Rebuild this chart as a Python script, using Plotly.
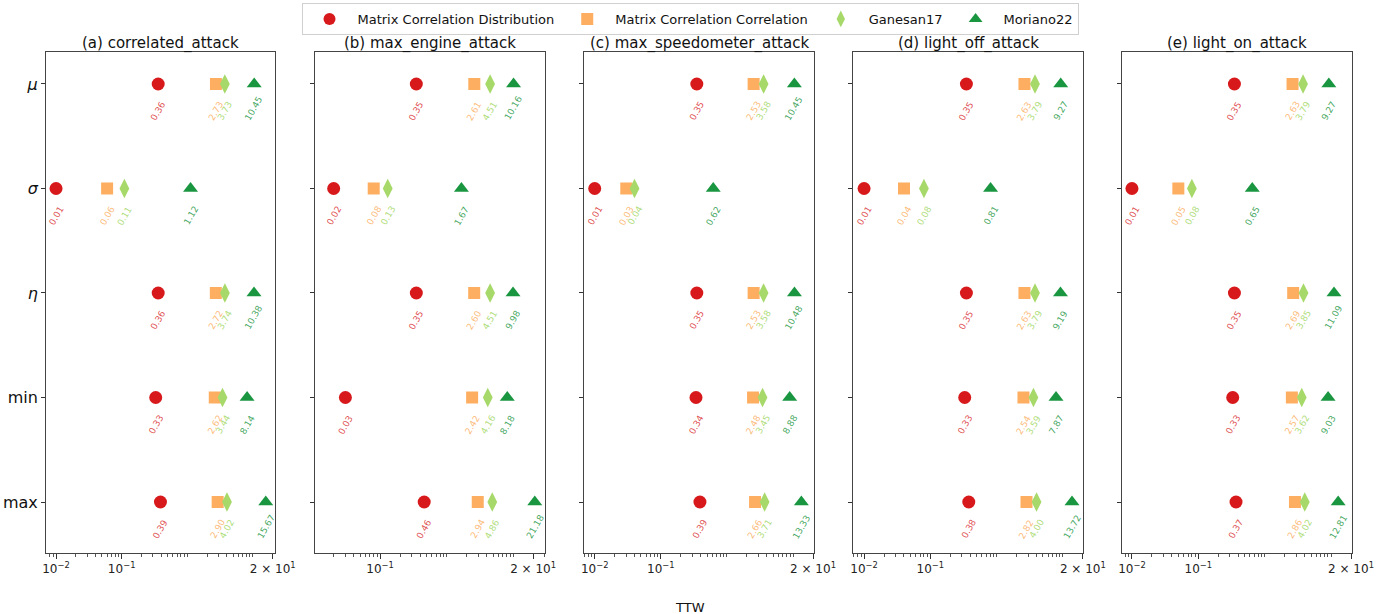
import numpy as np
import plotly.graph_objects as go

# ---------------- data ----------------
attacks = ["(a) correlated_attack", "(b) max_engine_attack", "(c) max_speedometer_attack",
           "(d) light_off_attack", "(e) light_on_attack"]
stats = ["<i>μ</i>", "<i>σ</i>", "<i>η</i>", "min", "max"]
methods = ["Matrix Correlation Distribution", "Matrix Correlation Correlation", "Ganesan17", "Moriano22"]

# values per attack: [mu, sigma, eta, min, max]
mcd = [
    [0.36, 0.01, 0.36, 0.33, 0.39],
    [0.35, 0.02, 0.35, 0.03, 0.46],
    [0.35, 0.01, 0.35, 0.34, 0.39],
    [0.35, 0.01, 0.35, 0.33, 0.38],
    [0.35, 0.01, 0.35, 0.33, 0.37],
]
mcc = [
    [2.73, 0.06, 2.72, 2.62, 2.90],
    [2.61, 0.08, 2.60, 2.42, 2.94],
    [2.53, 0.03, 2.53, 2.48, 2.66],
    [2.63, 0.04, 2.63, 2.54, 2.82],
    [2.63, 0.05, 2.69, 2.57, 2.86],
]
ganesan17 = [
    [3.73, 0.11, 3.74, 3.44, 4.02],
    [4.51, 0.13, 4.51, 4.16, 4.86],
    [3.58, 0.04, 3.58, 3.45, 3.71],
    [3.79, 0.08, 3.79, 3.59, 4.00],
    [3.79, 0.08, 3.85, 3.62, 4.02],
]
moriano22 = [
    [10.45, 1.12, 10.38, 8.14, 15.67],
    [10.16, 1.67, 9.98, 8.18, 21.18],
    [10.45, 0.62, 10.48, 8.88, 13.33],
    [9.27, 0.81, 9.19, 7.87, 13.72],
    [9.27, 0.65, 11.09, 9.03, 12.81],
]
series = [mcd, mcc, ganesan17, moriano22]

x_tickvals = [0.01, 0.1, 20]
x_ticktext = ["10<sup>−2</sup>", "10<sup>−1</sup>", "2 × 10<sup>1</sup>"]
x_minor = [m * 10.0 ** e for e in range(-3, 2) for m in range(1, 10)
           if m * 10.0 ** e not in (0.01, 0.1)]

# ---------------- style ----------------
colors = ["#d7191c", "#fdae61", "#a6d96a", "#1a9641"]
text_colors = ["rgba(215,25,28,0.8)", "rgba(253,174,97,0.85)", "rgba(166,217,106,0.9)", "rgba(26,150,65,0.85)"]
symbols = ["circle", "square", "diamond-tall", "triangle-up"]
sizes = [13, 12, 14, 13]

W, H = 1380, 614
panel_px = [(46, 275), (315, 545), (584, 814), (853, 1083), (1122, 1352)]
x_ranges = [(-2.153, 1.336), (-1.98, 1.48), (-2.162, 1.316), (-2.167, 1.303), (-2.15, 1.316)]
y_top_px, y_bot_px = 52, 553
y_dom = [(H - y_bot_px) / H, (H - y_top_px) / H]
y_range = [4.488, -0.306]

fig = go.Figure()
annotations = []
layout = dict()

for k in range(5):
    ax = "" if k == 0 else str(k + 1)
    xa, ya = "x" + ax, "y" + ax
    for m in range(4):
        vals = series[m][k]
        fig.add_trace(go.Scatter(
            x=vals, y=list(range(5)), mode="markers", name=methods[m],
            legendgroup=methods[m], showlegend=(k == 0),
            marker=dict(symbol=symbols[m], size=sizes[m], color=colors[m], line=dict(width=0)),
            xaxis=xa, yaxis=ya,
        ))
        for i, v in enumerate(vals):
            annotations.append(dict(
                x=np.log10(v), y=i, xref=xa, yref=ya, text=f"{v:.2f}", showarrow=False,
                textangle=-60, xanchor="center", yanchor="bottom", yshift=-41,
                font=dict(size=9, color=text_colors[m], family="DejaVu Sans"),
            ))
    x0, x1 = panel_px[k]
    layout["xaxis" + ax] = dict(
        domain=[x0 / W, x1 / W], type="log", range=list(x_ranges[k]), anchor=ya,
        tickmode="array", tickvals=x_tickvals, ticktext=x_ticktext, automargin=False,
        ticks="outside", ticklen=5, tickcolor="#333", showgrid=False, zeroline=False,
        showline=True, linecolor="#444", linewidth=1, mirror=True,
        tickfont=dict(size=12, color="#222"),
        minor=dict(tickmode="array", tickvals=x_minor, ticks="outside", ticklen=2.5,
                   tickcolor="#555", showgrid=False),
    )
    layout["yaxis" + ax] = dict(
        domain=y_dom, range=y_range, anchor=xa, tickmode="array", automargin=False,
        tickvals=list(range(5)), ticktext=stats, showticklabels=(k == 0),
        ticks="outside", ticklen=4, tickcolor="#333", showgrid=False, zeroline=False,
        showline=True, linecolor="#444", linewidth=1, mirror=True,
        tickfont=dict(size=16, color="#111"),
    )
    annotations.append(dict(
        x=(x0 + x1) / 2 / W, y=1 - 43 / H, xref="paper", yref="paper", text=attacks[k],
        showarrow=False, xanchor="center", yanchor="middle",
        font=dict(size=15, color="#111"),
    ))

annotations.append(dict(
    x=0.5, y=1 - 607 / H, xref="paper", yref="paper", text="TTW", showarrow=False,
    xanchor="center", yanchor="middle", font=dict(size=13, color="#111"),
))

fig.update_layout(
    **layout,
    width=W, height=H, margin=dict(l=0, r=0, t=0, b=0, autoexpand=False),
    paper_bgcolor="white", plot_bgcolor="white",
    font=dict(family="DejaVu Sans", color="#111"),
    annotations=annotations,
    legend=dict(orientation="h", x=0.5, xanchor="center", y=1 - 3 / H, yanchor="top",
                bordercolor="#d0d0d0", borderwidth=1, font=dict(size=13, color="#111"),
                bgcolor="white", itemsizing="constant", itemwidth=46),
)

fig.write_html("out.html")
